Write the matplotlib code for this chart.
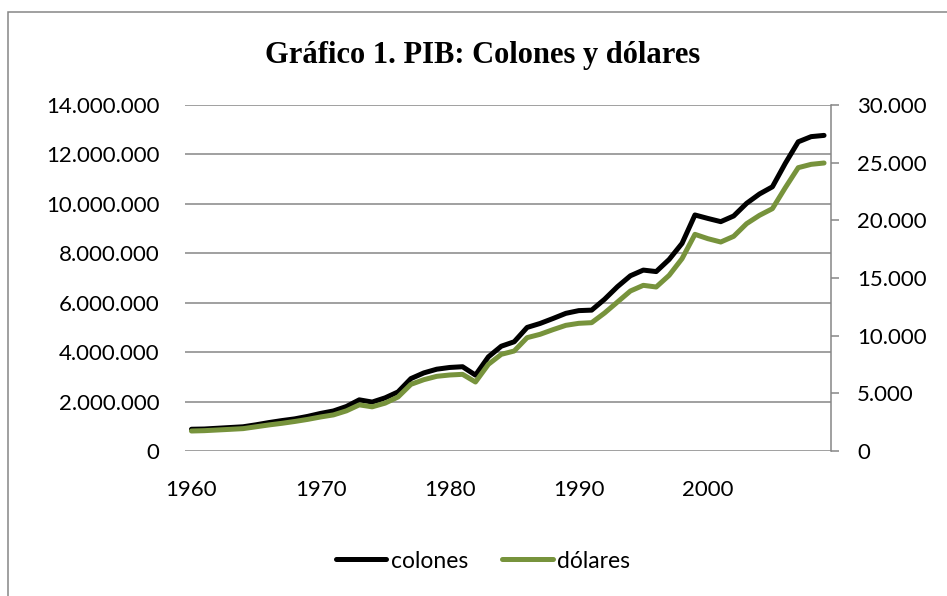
import matplotlib
matplotlib.use("Agg")
import matplotlib.pyplot as plt
from matplotlib.ticker import FuncFormatter, MultipleLocator
from matplotlib.patches import Rectangle

years = list(range(1960, 2010))

# PIB en millones de colones (eje izquierdo)
colones = [0.88, 0.89, 0.92, 0.95, 0.98, 1.06, 1.15, 1.23, 1.30, 1.40,
           1.52, 1.62, 1.80, 2.07, 1.98, 2.15, 2.39, 2.93, 3.16, 3.31,
           3.38, 3.41, 3.07, 3.81, 4.24, 4.42, 5.00, 5.16, 5.36, 5.57,
           5.68, 5.70, 6.14, 6.65, 7.09, 7.32, 7.26, 7.75, 8.40, 9.55,
           9.41, 9.28, 9.51, 10.02, 10.40, 10.69, 11.64, 12.51, 12.72, 12.77]
colones = [v * 1e6 for v in colones]

# PIB en millones de dólares (eje derecho)
dolares = [1734, 1763, 1821, 1879, 1940, 2100, 2260, 2400, 2560, 2740,
           2950, 3130, 3480, 4000, 3830, 4150, 4682, 5780, 6185, 6474,
           6590, 6647, 5983, 7514, 8382, 8671, 9827, 10116, 10520, 10896,
           11070, 11127, 11965, 12919, 13873, 14364, 14220, 15231, 16676, 18786,
           18410, 18121, 18613, 19711, 20434, 21012, 22832, 24566, 24855, 24971]

grid_gray = '#868686'
green = '#77933C'
font = 'Lato'


def miles(v, pos):
    return f"{int(round(v)):,}".replace(",", ".")


fig = plt.figure(figsize=(9.47, 5.96), dpi=100)
fig.patches.append(Rectangle((8 / 947, -0.1), 1.2, 1.1 - 12 / 596,
                             transform=fig.transFigure, fill=False,
                             edgecolor=grid_gray, linewidth=1.1))

ax = fig.add_axes([185 / 947, 1 - 451 / 596, 645.5 / 947, 346 / 596])
ax2 = ax.twinx()

l1, = ax.plot(years, colones, color='black', lw=3.6,
              solid_capstyle='round', solid_joinstyle='round', label='colones')
l2, = ax2.plot(years, dolares, color=green, lw=3.6,
               solid_capstyle='round', solid_joinstyle='round', label='dólares')

ax.set_xlim(1959.5, 2009.5)
ax.set_xticks([1960, 1970, 1980, 1990, 2000])
ax.set_ylim(0, 14e6)
ax.yaxis.set_major_locator(MultipleLocator(2e6))
ax.yaxis.set_major_formatter(FuncFormatter(miles))
ax2.set_ylim(0, 30000)
ax2.yaxis.set_major_locator(MultipleLocator(5000))
ax2.yaxis.set_major_formatter(FuncFormatter(miles))

ax.grid(axis='y', color=grid_gray, lw=1.1)
ax.set_axisbelow(True)
for s in ['left', 'top', 'bottom', 'right']:
    ax.spines[s].set_visible(False)
for s in ['left', 'top', 'bottom']:
    ax2.spines[s].set_visible(False)
ax2.spines['right'].set_color(grid_gray)
ax2.spines['right'].set_linewidth(1.1)

ax.tick_params(axis='x', length=0, pad=21, labelsize=16)
ax.tick_params(axis='y', length=0, pad=18.5, labelsize=16)
ax2.tick_params(axis='y', length=6, width=1.1, color=grid_gray, pad=13, labelsize=16)
for lab in ax.get_xticklabels() + ax.get_yticklabels() + ax2.get_yticklabels():
    lab.set_fontfamily(font)

fig.text(0.51, 1 - 55 / 596, 'Gráfico 1. PIB: Colones y dólares',
         ha='center', va='center', fontsize=22, fontweight='bold',
         family='Liberation Serif')

fig.legend([l1, l2], ['colones', 'dólares'], loc='center',
           bbox_to_anchor=(0.51, 1 - 561 / 596), ncol=2, frameon=False,
           prop={'family': font, 'size': 16.5}, handlelength=2.2,
           handletextpad=0.2, columnspacing=1.5)

fig.savefig('out.png', dpi=100)
